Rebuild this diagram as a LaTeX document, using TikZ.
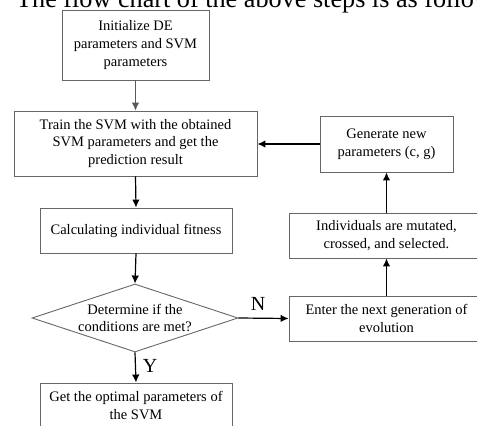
\documentclass[tikz,border=0pt]{standalone}
\usepackage{fontspec}
\setmainfont{Liberation Serif}
\usetikzlibrary{shapes.geometric,arrows.meta}
\begin{document}
\begin{tikzpicture}[x=1pt,y=-1pt,
  box/.style={draw=black!60,line width=0.9pt,rectangle,inner sep=0pt,align=center,
    font=\fontsize{14.5}{17.6}\selectfont},
  decide/.style={draw=black!60,line width=0.9pt,diamond,inner sep=0pt,align=center,
    font=\fontsize{14.5}{17.6}\selectfont},
  flow/.style={draw=black,line width=1.2pt,-{Latex[length=8pt,width=7.5pt]}},
  lab/.style={font=\fontsize{20}{20}\selectfont,inner sep=0pt}]
\useasboundingbox (0,0) rectangle (477,426);
\clip (0,0) rectangle (477,426);
\node[anchor=base west,inner sep=0pt,font=\fontsize{26.2}{27}\selectfont] (title) at (16,7) {The flow chart of the above steps is as follow};
\node[box,minimum width=147pt,minimum height=70pt] (init) at (135.5,45) {Initialize DE\\parameters and SVM\\parameters};
\node[box,minimum width=243pt,minimum height=65pt] (train) at (135.5,143.5) {Train the SVM with the obtained\\SVM parameters and get the\\prediction result};
\node[box,minimum width=192pt,minimum height=45pt] (fit) at (136,230.5) {Calculating individual fitness};
\node[decide,minimum width=206pt,minimum height=68pt,aspect=3] (cond) at (135,318) {Determine if the\\conditions are met?};
\node[box,minimum width=192pt,minimum height=45pt] (best) at (136,405.5) {Get the optimal parameters of\\the SVM};
\node[box,minimum width=133pt,minimum height=56pt] (gen) at (386.5,144) {Generate new\\parameters (c, g)};
\node[box,minimum width=195pt,minimum height=45pt] (mut) at (386.5,235.5) {Individuals are mutated,\\crossed, and selected.};
\node[box,minimum width=195pt,minimum height=45pt] (next) at (386.5,318.5) {Enter the next generation of\\evolution};
\draw[flow,draw=black!65,-{Latex[length=8pt,width=7.5pt,fill=black!65]}] (init.south) -- (train.north);
\draw[flow] (train.south) -- (fit.north);
\draw[flow] (fit.south) -- (cond.north);
\draw[flow] (cond.south) -- (best.north);
\draw[flow] (cond.east) -- (next.west);
\draw[flow] (next.north) -- (mut.south);
\draw[flow] (mut.north) -- (gen.south);
\draw[flow] (gen.west) -- (train.east |- gen.west);
\node[lab] (ny) at (258,304) {N};
\node[lab] (yy) at (150,366) {Y};
\end{tikzpicture}
\end{document}
